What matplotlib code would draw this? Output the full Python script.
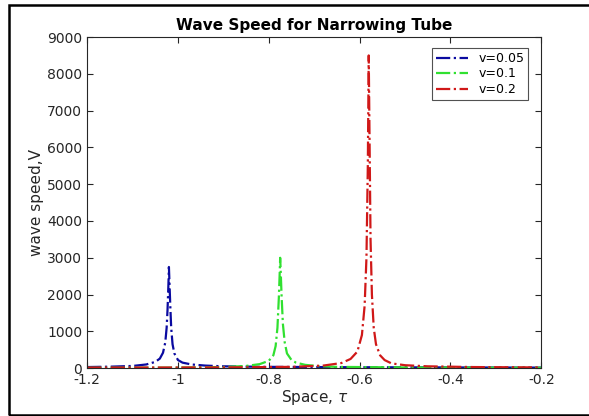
import numpy as np
import matplotlib.pyplot as plt
from matplotlib.patches import Rectangle

x_blue = [-1.2, -1.15, -1.1, -1.07, -1.05, -1.04, -1.033, -1.028, -1.025, -1.023, -1.021, -1.02,
          -1.019, -1.017, -1.015, -1.012, -1.008, -1.0, -0.99, -0.97, -0.94, -0.9, -0.8, -0.6, -0.4, -0.2]
y_blue = [30, 40, 60, 100, 170, 260, 420, 700, 1100, 1600, 2300, 2750,
          2400, 1700, 1100, 650, 400, 220, 150, 100, 70, 50, 35, 25, 20, 15]

x_green = [-1.2, -1.0, -0.9, -0.85, -0.82, -0.8, -0.79, -0.785, -0.781, -0.778, -0.776, -0.775,
           -0.774, -0.772, -0.769, -0.765, -0.76, -0.75, -0.74, -0.72, -0.69, -0.65, -0.5, -0.2]
y_green = [10, 15, 30, 60, 110, 200, 350, 600, 1100, 1900, 2600, 3000,
           2700, 2000, 1200, 700, 400, 220, 150, 90, 55, 35, 20, 10]

x_red = [-1.2, -0.9, -0.75, -0.68, -0.64, -0.62, -0.605, -0.595, -0.589, -0.585, -0.582, -0.58,
         -0.578, -0.576, -0.573, -0.569, -0.564, -0.555, -0.545, -0.53, -0.5, -0.45, -0.35, -0.2]
y_red = [15, 20, 35, 70, 140, 250, 450, 900, 1700, 3000, 5500, 8500,
         6000, 3500, 2000, 1100, 650, 350, 220, 130, 80, 50, 30, 20]

labels = ['v=0.05', 'v=0.1', 'v=0.2']

fig = plt.figure(figsize=(5.89, 4.16), dpi=100)
ax = fig.add_axes([0.148, 0.115, 0.771, 0.796])

ax.plot(x_blue, y_blue, '-.', color='#0a0aa0', lw=1.6, label=labels[0])
ax.plot(x_green, y_green, '-.', color='#30e030', lw=1.6, label=labels[1])
ax.plot(x_red, y_red, '-.', color='#d01818', lw=1.6, label=labels[2])

ax.set_xlim(-1.2, -0.2)
ax.set_ylim(0, 9000)
ax.set_xticks([-1.2, -1, -0.8, -0.6, -0.4, -0.2])
ax.set_xticklabels(['-1.2', '-1', '-0.8', '-0.6', '-0.4', '-0.2'])
ax.set_yticks(np.arange(0, 9001, 1000))
ax.tick_params(direction='in', top=True, right=True, labelsize=10, colors='#262626', length=4)
for s in ax.spines.values():
    s.set_color('#262626')
    s.set_linewidth(0.8)

ax.set_title('Wave Speed for Narrowing Tube', fontsize=11, fontweight='bold', pad=5)
ax.set_xlabel(r'Space, $\tau$', fontsize=11, color='#262626', labelpad=1)
ax.set_ylabel('wave speed,V', fontsize=11, color='#262626', labelpad=2)

leg = ax.legend(loc='upper right', fontsize=9, frameon=True, fancybox=False,
                handlelength=2.6, borderpad=0.3, labelspacing=0.2, bbox_to_anchor=(0.985, 0.985))
leg.get_frame().set_edgecolor('#262626')
leg.get_frame().set_linewidth(0.8)

# black frame around the screenshot (right side runs off the image)
fig.patches.append(Rectangle((9 / 589, 1 / 416), 1.05, 410 / 416, transform=fig.transFigure,
                             fill=False, edgecolor='black', lw=1.8))

plt.savefig('out.png', dpi=100)
